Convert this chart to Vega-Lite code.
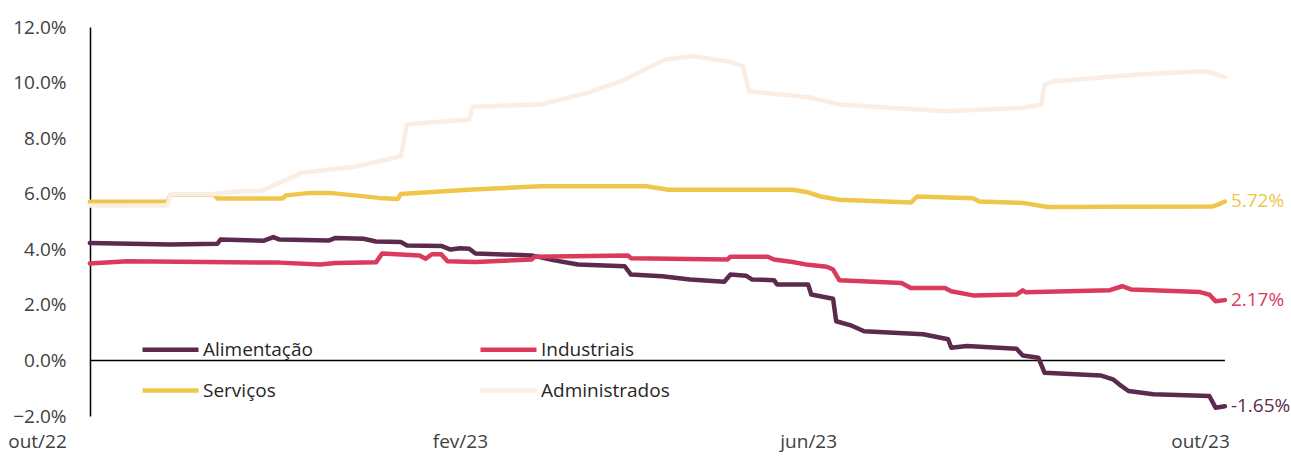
{
  "$schema": "https://vega.github.io/schema/vega-lite/v6.json",
  "width": 1191,
  "height": 389,
  "autosize": {"type": "none"},
  "padding": {"left": 37, "top": 27, "right": 63, "bottom": 42},
  "background": "white",
  "config": {"view": {"stroke": null}, "font": "Open Sans"},
  "datasets": {
    "series": [
      {"d": "2022-10-20", "s": "Alimentação", "v": 0.0423},
      {"d": "2022-11-15", "s": "Alimentação", "v": 0.0417},
      {"d": "2022-11-30", "s": "Alimentação", "v": 0.0420},
      {"d": "2022-12-01", "s": "Alimentação", "v": 0.0435},
      {"d": "2022-12-15", "s": "Alimentação", "v": 0.0431},
      {"d": "2022-12-18", "s": "Alimentação", "v": 0.0444},
      {"d": "2022-12-20", "s": "Alimentação", "v": 0.0435},
      {"d": "2023-01-05", "s": "Alimentação", "v": 0.0432},
      {"d": "2023-01-07", "s": "Alimentação", "v": 0.0441},
      {"d": "2023-01-16", "s": "Alimentação", "v": 0.0438},
      {"d": "2023-01-20", "s": "Alimentação", "v": 0.0428},
      {"d": "2023-01-28", "s": "Alimentação", "v": 0.0426},
      {"d": "2023-01-30", "s": "Alimentação", "v": 0.0414},
      {"d": "2023-02-10", "s": "Alimentação", "v": 0.0412},
      {"d": "2023-02-13", "s": "Alimentação", "v": 0.0399},
      {"d": "2023-02-16", "s": "Alimentação", "v": 0.0404},
      {"d": "2023-02-19", "s": "Alimentação", "v": 0.0402},
      {"d": "2023-02-21", "s": "Alimentação", "v": 0.0385},
      {"d": "2023-03-11", "s": "Alimentação", "v": 0.0378},
      {"d": "2023-03-18", "s": "Alimentação", "v": 0.0361},
      {"d": "2023-03-26", "s": "Alimentação", "v": 0.0345},
      {"d": "2023-04-10", "s": "Alimentação", "v": 0.0339},
      {"d": "2023-04-12", "s": "Alimentação", "v": 0.0309},
      {"d": "2023-04-22", "s": "Alimentação", "v": 0.0303},
      {"d": "2023-05-01", "s": "Alimentação", "v": 0.0291},
      {"d": "2023-05-12", "s": "Alimentação", "v": 0.0283},
      {"d": "2023-05-14", "s": "Alimentação", "v": 0.0309},
      {"d": "2023-05-19", "s": "Alimentação", "v": 0.0305},
      {"d": "2023-05-21", "s": "Alimentação", "v": 0.0291},
      {"d": "2023-05-28", "s": "Alimentação", "v": 0.0289},
      {"d": "2023-05-29", "s": "Alimentação", "v": 0.0273},
      {"d": "2023-06-08", "s": "Alimentação", "v": 0.0273},
      {"d": "2023-06-09", "s": "Alimentação", "v": 0.0237},
      {"d": "2023-06-16", "s": "Alimentação", "v": 0.0222},
      {"d": "2023-06-17", "s": "Alimentação", "v": 0.0141},
      {"d": "2023-06-22", "s": "Alimentação", "v": 0.0125},
      {"d": "2023-06-26", "s": "Alimentação", "v": 0.0105},
      {"d": "2023-07-15", "s": "Alimentação", "v": 0.0094},
      {"d": "2023-07-23", "s": "Alimentação", "v": 0.0076},
      {"d": "2023-07-24", "s": "Alimentação", "v": 0.0046},
      {"d": "2023-07-29", "s": "Alimentação", "v": 0.0052},
      {"d": "2023-08-14", "s": "Alimentação", "v": 0.0042},
      {"d": "2023-08-16", "s": "Alimentação", "v": 0.0018},
      {"d": "2023-08-21", "s": "Alimentação", "v": 0.0010},
      {"d": "2023-08-23", "s": "Alimentação", "v": -0.0044},
      {"d": "2023-09-10", "s": "Alimentação", "v": -0.0054},
      {"d": "2023-09-14", "s": "Alimentação", "v": -0.0068},
      {"d": "2023-09-16", "s": "Alimentação", "v": -0.0086},
      {"d": "2023-09-19", "s": "Alimentação", "v": -0.0110},
      {"d": "2023-09-27", "s": "Alimentação", "v": -0.0122},
      {"d": "2023-10-15", "s": "Alimentação", "v": -0.0128},
      {"d": "2023-10-17", "s": "Alimentação", "v": -0.0170},
      {"d": "2023-10-20", "s": "Alimentação", "v": -0.0165},

      {"d": "2022-10-20", "s": "Industriais", "v": 0.0349},
      {"d": "2022-11-01", "s": "Industriais", "v": 0.0357},
      {"d": "2022-12-20", "s": "Industriais", "v": 0.0352},
      {"d": "2023-01-02", "s": "Industriais", "v": 0.0345},
      {"d": "2023-01-07", "s": "Industriais", "v": 0.0351},
      {"d": "2023-01-20", "s": "Industriais", "v": 0.0353},
      {"d": "2023-01-22", "s": "Industriais", "v": 0.0385},
      {"d": "2023-02-03", "s": "Industriais", "v": 0.0378},
      {"d": "2023-02-05", "s": "Industriais", "v": 0.0366},
      {"d": "2023-02-07", "s": "Industriais", "v": 0.0382},
      {"d": "2023-02-10", "s": "Industriais", "v": 0.0382},
      {"d": "2023-02-12", "s": "Industriais", "v": 0.0357},
      {"d": "2023-02-21", "s": "Industriais", "v": 0.0354},
      {"d": "2023-03-11", "s": "Industriais", "v": 0.0363},
      {"d": "2023-03-12", "s": "Industriais", "v": 0.0373},
      {"d": "2023-04-11", "s": "Industriais", "v": 0.0378},
      {"d": "2023-04-12", "s": "Industriais", "v": 0.0368},
      {"d": "2023-05-13", "s": "Industriais", "v": 0.0363},
      {"d": "2023-05-14", "s": "Industriais", "v": 0.0373},
      {"d": "2023-05-26", "s": "Industriais", "v": 0.0373},
      {"d": "2023-05-28", "s": "Industriais", "v": 0.0363},
      {"d": "2023-06-03", "s": "Industriais", "v": 0.0354},
      {"d": "2023-06-08", "s": "Industriais", "v": 0.0344},
      {"d": "2023-06-14", "s": "Industriais", "v": 0.0337},
      {"d": "2023-06-16", "s": "Industriais", "v": 0.0327},
      {"d": "2023-06-18", "s": "Industriais", "v": 0.0289},
      {"d": "2023-07-08", "s": "Industriais", "v": 0.0279},
      {"d": "2023-07-11", "s": "Industriais", "v": 0.0261},
      {"d": "2023-07-22", "s": "Industriais", "v": 0.0261},
      {"d": "2023-07-24", "s": "Industriais", "v": 0.0249},
      {"d": "2023-07-31", "s": "Industriais", "v": 0.0234},
      {"d": "2023-08-14", "s": "Industriais", "v": 0.0237},
      {"d": "2023-08-16", "s": "Industriais", "v": 0.0252},
      {"d": "2023-08-17", "s": "Industriais", "v": 0.0245},
      {"d": "2023-09-13", "s": "Industriais", "v": 0.0253},
      {"d": "2023-09-17", "s": "Industriais", "v": 0.0267},
      {"d": "2023-09-20", "s": "Industriais", "v": 0.0255},
      {"d": "2023-10-12", "s": "Industriais", "v": 0.0246},
      {"d": "2023-10-15", "s": "Industriais", "v": 0.0237},
      {"d": "2023-10-17", "s": "Industriais", "v": 0.0213},
      {"d": "2023-10-20", "s": "Industriais", "v": 0.0217},

      {"d": "2022-10-20", "s": "Serviços", "v": 0.0571},
      {"d": "2022-11-14", "s": "Serviços", "v": 0.0572},
      {"d": "2022-11-15", "s": "Serviços", "v": 0.0597},
      {"d": "2022-11-29", "s": "Serviços", "v": 0.0597},
      {"d": "2022-11-30", "s": "Serviços", "v": 0.0583},
      {"d": "2022-12-21", "s": "Serviços", "v": 0.0583},
      {"d": "2022-12-22", "s": "Serviços", "v": 0.0594},
      {"d": "2022-12-30", "s": "Serviços", "v": 0.0603},
      {"d": "2023-01-05", "s": "Serviços", "v": 0.0603},
      {"d": "2023-01-21", "s": "Serviços", "v": 0.0585},
      {"d": "2023-01-27", "s": "Serviços", "v": 0.0581},
      {"d": "2023-01-28", "s": "Serviços", "v": 0.0599},
      {"d": "2023-02-20", "s": "Serviços", "v": 0.0615},
      {"d": "2023-03-14", "s": "Serviços", "v": 0.0627},
      {"d": "2023-04-17", "s": "Serviços", "v": 0.0627},
      {"d": "2023-04-24", "s": "Serviços", "v": 0.0614},
      {"d": "2023-06-03", "s": "Serviços", "v": 0.0614},
      {"d": "2023-06-08", "s": "Serviços", "v": 0.0605},
      {"d": "2023-06-12", "s": "Serviços", "v": 0.0590},
      {"d": "2023-06-18", "s": "Serviços", "v": 0.0578},
      {"d": "2023-07-11", "s": "Serviços", "v": 0.0568},
      {"d": "2023-07-13", "s": "Serviços", "v": 0.0590},
      {"d": "2023-07-31", "s": "Serviços", "v": 0.0584},
      {"d": "2023-08-02", "s": "Serviços", "v": 0.0572},
      {"d": "2023-08-16", "s": "Serviços", "v": 0.0567},
      {"d": "2023-08-24", "s": "Serviços", "v": 0.0552},
      {"d": "2023-10-16", "s": "Serviços", "v": 0.0554},
      {"d": "2023-10-18", "s": "Serviços", "v": 0.0562},
      {"d": "2023-10-20", "s": "Serviços", "v": 0.0572},

      {"d": "2022-10-20", "s": "Administrados", "v": 0.0558},
      {"d": "2022-11-14", "s": "Administrados", "v": 0.0558},
      {"d": "2022-11-15", "s": "Administrados", "v": 0.0599},
      {"d": "2022-11-29", "s": "Administrados", "v": 0.0599},
      {"d": "2022-12-07", "s": "Administrados", "v": 0.0609},
      {"d": "2022-12-14", "s": "Administrados", "v": 0.0610},
      {"d": "2022-12-22", "s": "Administrados", "v": 0.0650},
      {"d": "2022-12-27", "s": "Administrados", "v": 0.0675},
      {"d": "2023-01-14", "s": "Administrados", "v": 0.0699},
      {"d": "2023-01-28", "s": "Administrados", "v": 0.0735},
      {"d": "2023-01-30", "s": "Administrados", "v": 0.0850},
      {"d": "2023-02-19", "s": "Administrados", "v": 0.0867},
      {"d": "2023-02-20", "s": "Administrados", "v": 0.0913},
      {"d": "2023-03-14", "s": "Administrados", "v": 0.0921},
      {"d": "2023-03-29", "s": "Administrados", "v": 0.0963},
      {"d": "2023-04-10", "s": "Administrados", "v": 0.1010},
      {"d": "2023-04-12", "s": "Administrados", "v": 0.1023},
      {"d": "2023-04-23", "s": "Administrados", "v": 0.1083},
      {"d": "2023-05-02", "s": "Administrados", "v": 0.1095},
      {"d": "2023-05-13", "s": "Administrados", "v": 0.1077},
      {"d": "2023-05-18", "s": "Administrados", "v": 0.1059},
      {"d": "2023-05-20", "s": "Administrados", "v": 0.0969},
      {"d": "2023-06-05", "s": "Administrados", "v": 0.0951},
      {"d": "2023-06-09", "s": "Administrados", "v": 0.0945},
      {"d": "2023-06-18", "s": "Administrados", "v": 0.0921},
      {"d": "2023-07-22", "s": "Administrados", "v": 0.0897},
      {"d": "2023-08-16", "s": "Administrados", "v": 0.0909},
      {"d": "2023-08-22", "s": "Administrados", "v": 0.0921},
      {"d": "2023-08-23", "s": "Administrados", "v": 0.0993},
      {"d": "2023-08-26", "s": "Administrados", "v": 0.1005},
      {"d": "2023-09-22", "s": "Administrados", "v": 0.1029},
      {"d": "2023-10-13", "s": "Administrados", "v": 0.1041},
      {"d": "2023-10-16", "s": "Administrados", "v": 0.1035},
      {"d": "2023-10-20", "s": "Administrados", "v": 0.1020}
    ],
    "ends": [
      {"d": "2023-10-20", "s": "Serviços", "v": 0.0572, "t": "5.72%"},
      {"d": "2023-10-20", "s": "Industriais", "v": 0.0217, "t": "2.17%"},
      {"d": "2023-10-20", "s": "Alimentação", "v": -0.0165, "t": "-1.65%"}
    ]
  },
  "layer": [
    {
      "data": {"values": [{}]},
      "mark": {"type": "rule", "color": "#000000", "strokeWidth": 1.5},
      "encoding": {
        "y": {"datum": 0, "type": "quantitative"},
        "x": {"datum": {"year": 2022, "month": 10, "date": 20, "utc": true}, "type": "temporal"},
        "x2": {"datum": {"year": 2023, "month": 10, "date": 20, "utc": true}}
      }
    },
    {
      "data": {"name": "series"},
      "mark": {"type": "line", "interpolate": "linear", "strokeCap": "round", "strokeJoin": "round"},
      "encoding": {
        "x": {
          "field": "d", "type": "temporal",
          "scale": {"type": "utc", "nice": false, "domain": [{"year": 2022, "month": 10, "date": 3, "utc": true}, {"year": 2023, "month": 10, "date": 21, "utc": true}]},
          "axis": {
            "title": null, "domain": false, "ticks": false, "tickSize": 0, "grid": false,
            "values": [
              {"year": 2022, "month": 10, "date": 3, "utc": true},
              {"year": 2023, "month": 2, "date": 16, "utc": true},
              {"year": 2023, "month": 6, "date": 8, "utc": true},
              {"year": 2023, "month": 10, "date": 12, "utc": true}
            ],
            "labelExpr": "['jan','fev','mar','abr','mai','jun','jul','ago','set','out','nov','dez'][utcmonth(datum.value)] + '/' + utcFormat(datum.value, '%y')",
            "labelFontSize": 19, "labelColor": "#404040", "labelPadding": 16,
            "labelFlush": false, "labelOverlap": false, "labelFont": "Open Sans"
          }
        },
        "y": {
          "field": "v", "type": "quantitative",
          "scale": {"domain": [-0.02, 0.12], "nice": false, "zero": false},
          "axis": {
            "title": null, "values": [-0.02, 0, 0.02, 0.04, 0.06, 0.08, 0.1, 0.12],
            "format": ".1%", "offset": -53, "ticks": false, "tickSize": 0, "grid": false,
            "domainColor": "#000000", "domainWidth": 1.5,
            "labelFontSize": 19, "labelColor": "#404040", "labelPadding": 24, "labelFont": "Open Sans"
          }
        },
        "color": {
          "field": "s", "type": "nominal",
          "scale": {"domain": ["Alimentação", "Industriais", "Serviços", "Administrados"], "range": ["#5C2A4D", "#DA3A5C", "#F0C64A", "#FAEDE4"]},
          "legend": {
            "title": null, "orient": "none", "legendX": 103, "legendY": 292,
            "direction": "horizontal", "columns": 2, "columnPadding": 158, "rowPadding": -22,
            "symbolType": "stroke", "symbolSize": 3136, "symbolStrokeWidth": 4,
            "labelFontSize": 19, "labelColor": "#262626", "labelFont": "Open Sans", "labelOffset": 2,
            "padding": 0, "labelLimit": 300
          }
        },
        "strokeWidth": {
          "field": "s", "type": "nominal",
          "scale": {"domain": ["Alimentação", "Industriais", "Serviços", "Administrados"], "range": [4.5, 4.5, 4.5, 2]},
          "legend": null
        }
      }
    },
    {
      "data": {"name": "ends"},
      "mark": {"type": "text", "align": "left", "baseline": "middle", "dx": 6, "fontSize": 19, "font": "Open Sans"},
      "encoding": {
        "x": {"field": "d", "type": "temporal"},
        "y": {"field": "v", "type": "quantitative"},
        "text": {"field": "t"},
        "color": {"field": "s", "type": "nominal", "legend": null}
      }
    }
  ]
}
